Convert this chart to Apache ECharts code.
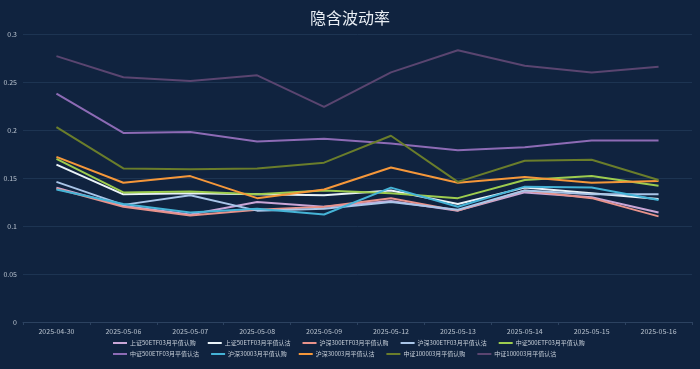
<!DOCTYPE html>
<html><head><meta charset="utf-8">
<script src="https://cdn.jsdelivr.net/npm/echarts@6/dist/echarts.min.js"></script>
<style>html,body{margin:0;padding:0;background:#10233f;}#c{width:700px;height:369px;}</style>
</head><body><div id="c"></div>
<script>
const categories = ['2025-04-30','2025-05-06','2025-05-07','2025-05-08','2025-05-09','2025-05-12','2025-05-13','2025-05-14','2025-05-15','2025-05-16'];
const seriesNames = ['上证50ETF03月平值认购','上证50ETF03月平值认沽','沪深300ETF03月平值认购','沪深300ETF03月平值认沽','中证500ETF03月平值认购','中证500ETF03月平值认沽','沪深30003月平值认购','沪深30003月平值认沽','中证100003月平值认购','中证100003月平值认沽'];
const sz50Call   = [0.140,0.121,0.112,0.125,0.120,0.126,0.116,0.135,0.130,0.114];
const sz50Put    = [0.164,0.133,0.134,0.133,0.132,0.137,0.123,0.140,0.134,0.128];
const hs300eCall = [0.139,0.120,0.111,0.117,0.120,0.129,0.116,0.137,0.129,0.110];
const hs300ePut  = [0.146,0.122,0.132,0.116,0.118,0.125,0.117,0.137,0.133,0.133];
const zz500eCall = [0.170,0.135,0.136,0.133,0.137,0.134,0.129,0.148,0.152,0.142];
const zz500ePut  = [0.238,0.197,0.198,0.188,0.191,0.186,0.179,0.182,0.189,0.189];
const hs300Call  = [0.138,0.123,0.114,0.118,0.112,0.140,0.120,0.141,0.140,0.127];
const hs300Put   = [0.172,0.145,0.152,0.129,0.138,0.161,0.145,0.151,0.145,0.147];
const zz1000Call = [0.203,0.160,0.159,0.160,0.166,0.194,0.146,0.168,0.169,0.148];
const zz1000Put  = [0.277,0.255,0.251,0.257,0.224,0.260,0.283,0.267,0.260,0.266];
const yTicks = {min:0, max:0.3, interval:0.05};

const values = [sz50Call,sz50Put,hs300eCall,hs300ePut,zz500eCall,zz500ePut,hs300Call,hs300Put,zz1000Call,zz1000Put];
const colors = ['#c9a6d6','#eaf3f8','#e8928a','#a9c5e8','#9dcc4f','#8d6bb5','#45b3d6','#f5973a','#6a7d2b','#5a4570'];
const font = '"Noto Sans CJK SC", "Noto Sans", sans-serif';
const legendBase = {left:113, padding:0, itemWidth:14, itemHeight:2, icon:'rect', itemGap:12,
    textStyle:{color:'#c8d0da', fontSize:6, fontFamily:font, padding:[0,0,0,-2]}};
const chart = echarts.init(document.getElementById('c'), null, {renderer:'canvas'});
chart.setOption({
  backgroundColor:'#10233f',
  color: colors,
  title:{text:'隐含波动率', left:'center', top:5, textStyle:{color:'#e8edf3', fontSize:16, fontWeight:'normal', fontFamily:font}},
  grid:{left:23, right:8, top:34, bottom:47},
  legend:[
    Object.assign({}, legendBase, {data:seriesNames.slice(0,5), top:340}),
    Object.assign({}, legendBase, {data:seriesNames.slice(5), top:351})
  ],
  xAxis:{type:'category', data:categories, boundaryGap:true,
    axisLine:{lineStyle:{color:'#2c4260'}}, axisTick:{show:true, lineStyle:{color:'#2c4260'}, length:3},
    axisLabel:{color:'#b8c2ce', fontSize:7, fontFamily:font, margin:6}},
  yAxis:{type:'value', min:yTicks.min, max:yTicks.max, interval:yTicks.interval,
    axisLine:{show:false}, axisTick:{show:false},
    splitLine:{lineStyle:{color:'#1d3452', width:1}},
    axisLabel:{color:'#b8c2ce', fontSize:7, fontFamily:font, margin:6}},
  series: seriesNames.map((n,i)=>({name:n, type:'line', data:values[i], symbol:'none', lineStyle:{width:2, color:colors[i]}, itemStyle:{color:colors[i]}, animation:false}))
});
</script></body></html>
